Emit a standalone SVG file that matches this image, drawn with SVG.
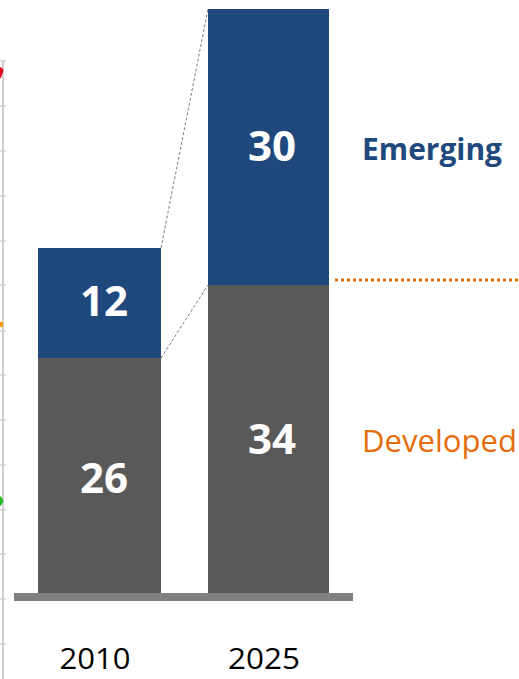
<svg xmlns="http://www.w3.org/2000/svg" width="519" height="679" viewBox="0 0 519 679">
<style>
.blue{fill:#1F497D}
.gray{fill:#595959}
.val{font-family:"Open Sans","Liberation Sans",sans-serif;font-weight:bold;font-size:42px;fill:#FFFFFF;text-anchor:middle}
.yr{font-family:"Open Sans","Liberation Sans",sans-serif;font-size:30px;fill:#000000;text-anchor:middle}
.lbl{font-family:"Open Sans","Liberation Sans",sans-serif;font-size:31px}
.tick{stroke:#BFBFBF;stroke-width:1}
.conn{stroke:#595959;stroke-width:0.8;stroke-dasharray:3 2;fill:none}
</style>
<rect width="519" height="679" fill="#FFFFFF"/>
<g id="axis">
<line x1="3" y1="61" x2="3" y2="679" stroke="#BFBFBF" stroke-width="1.5"/>
<g class="tick">
<line x1="0" y1="61" x2="6" y2="61"/>
<line x1="0" y1="106" x2="6" y2="106"/>
<line x1="0" y1="151" x2="6" y2="151"/>
<line x1="0" y1="196" x2="6" y2="196"/>
<line x1="0" y1="241" x2="6" y2="241"/>
<line x1="0" y1="285" x2="6" y2="285"/>
<line x1="0" y1="331" x2="6" y2="331"/>
<line x1="0" y1="375" x2="6" y2="375"/>
<line x1="0" y1="420" x2="6" y2="420"/>
<line x1="0" y1="465" x2="6" y2="465"/>
<line x1="0" y1="510" x2="6" y2="510"/>
<line x1="0" y1="554" x2="6" y2="554"/>
<line x1="0" y1="599" x2="6" y2="599"/>
<line x1="0" y1="644" x2="6" y2="644"/>
</g>
<path d="M0,67 Q4,68 3,72 Q2,76 0,79 Z" fill="#E8001C"/>
<rect x="0" y="322" width="3" height="5" fill="#FF9900"/>
<path d="M0,496 Q4,499 3,502 Q2,505 0,506 Z" fill="#22BB22"/>
</g>
<g id="connectors">
<line class="conn" x1="161" y1="248" x2="208" y2="9"/>
<line class="conn" x1="161" y1="358" x2="208" y2="285"/>
<line x1="335" y1="280" x2="519" y2="280" stroke="#E46C0A" stroke-width="3" stroke-dasharray="3 3"/>
</g>
<g id="bar2010">
<rect class="blue" x="38" y="248" width="123" height="110"/>
<rect class="gray" x="38" y="358" width="123" height="235"/>
<text class="val" x="104" y="316">12</text>
<text class="val" x="104" y="493">26</text>
</g>
<g id="bar2025">
<rect class="blue" x="208" y="9" width="121" height="276"/>
<rect class="gray" x="208" y="285" width="121" height="308"/>
<text class="val" x="272" y="161">30</text>
<text class="val" x="272" y="454">34</text>
</g>
<g id="baseline">
<rect x="14" y="593" width="339" height="8" fill="#808080"/>
</g>
<g id="labels">
<text class="yr" x="95" y="669" textLength="71" lengthAdjust="spacingAndGlyphs">2010</text>
<text class="yr" x="264" y="669" textLength="72" lengthAdjust="spacingAndGlyphs">2025</text>
<text class="lbl" x="362" y="160" font-weight="bold" fill="#1F497D" textLength="140" lengthAdjust="spacingAndGlyphs">Emerging</text>
<text class="lbl" x="362" y="452" fill="#E46C0A" textLength="155" lengthAdjust="spacingAndGlyphs">Developed</text>
</g>
</svg>
